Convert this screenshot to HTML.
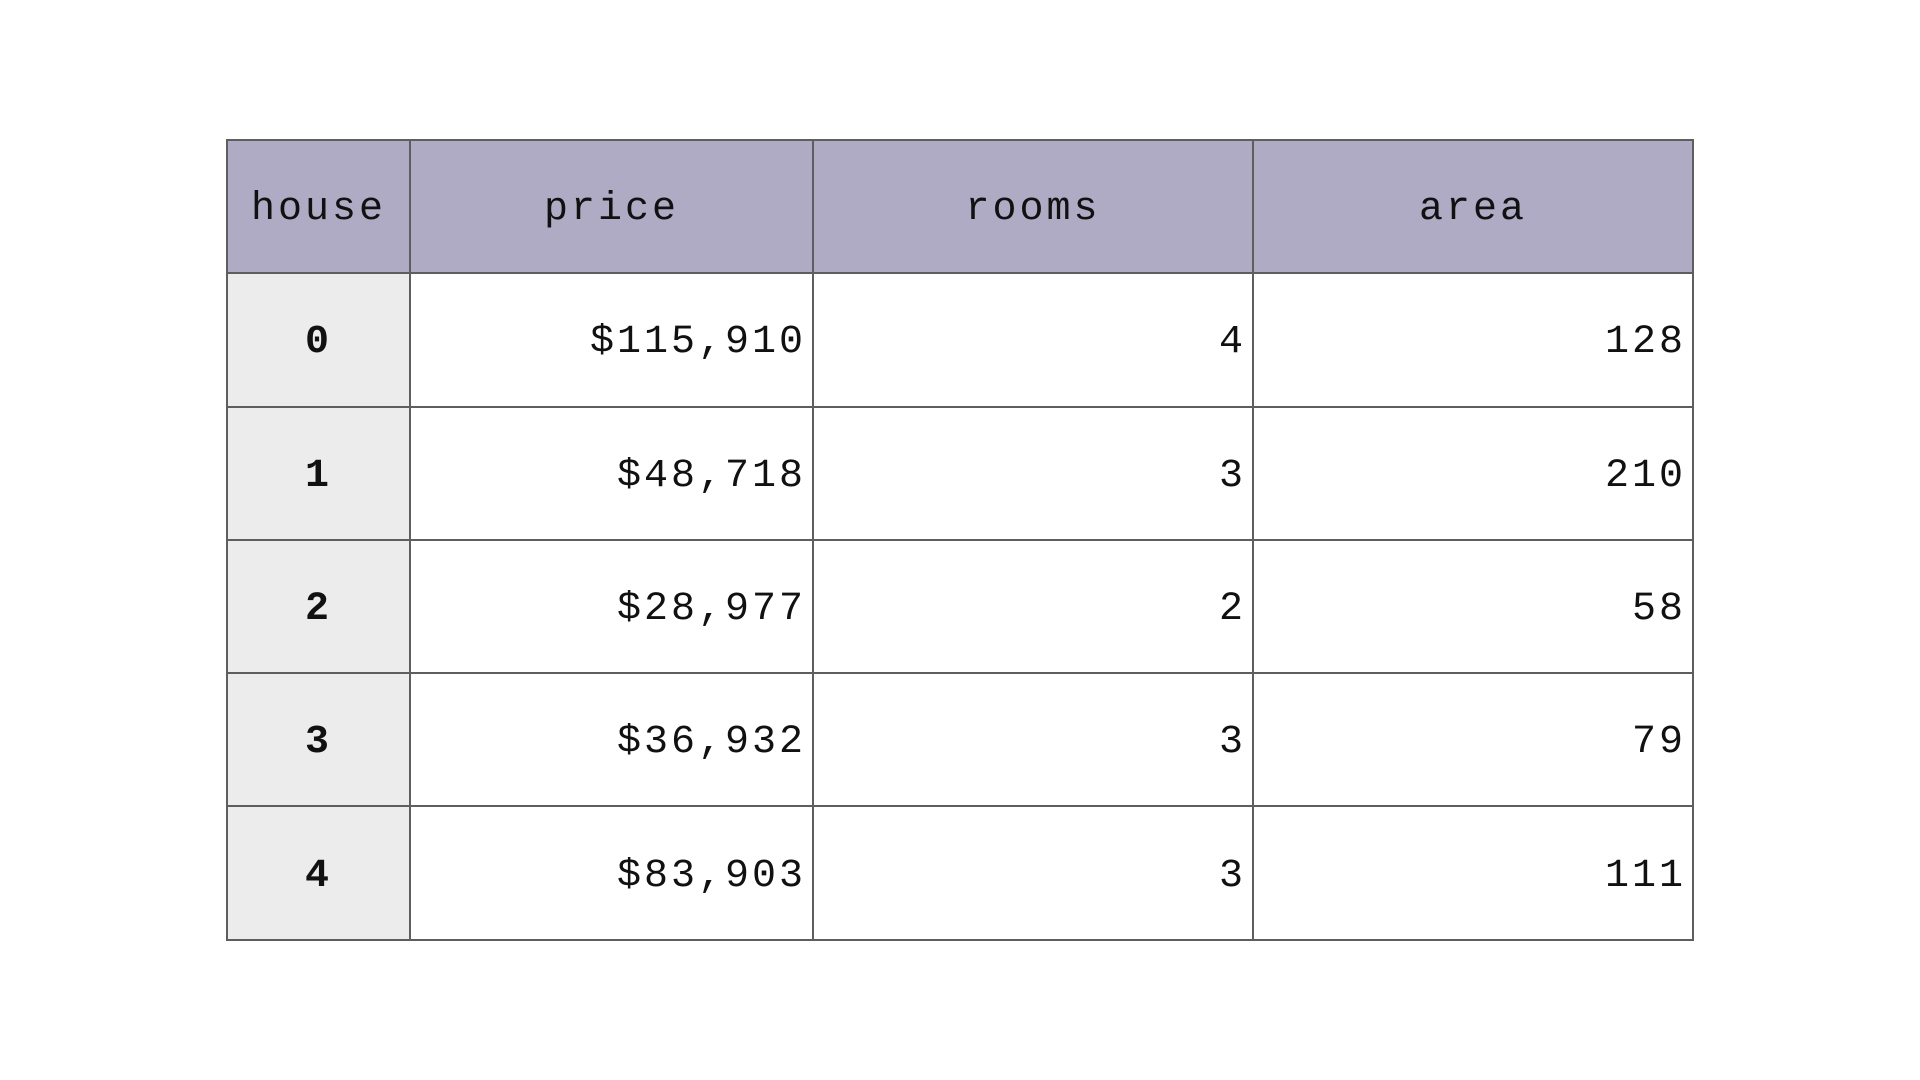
<!DOCTYPE html>
<html><head><meta charset="utf-8"><style>
html,body{margin:0;padding:0;background:#fff;width:1920px;height:1080px;overflow:hidden}
table{position:absolute;left:226px;top:139px;border-collapse:collapse;font-family:"Liberation Mono",monospace;font-size:40px;letter-spacing:3px;color:#111}
td,th{border:2px solid #5e5e5e;height:133.3px;padding:6px 6px 0 6px;box-sizing:border-box}
th{background:#b0abc5;font-weight:normal;text-align:center}
td{text-align:right}
td.idx{background:#ececec;font-weight:bold;text-align:center}
</style></head><body>
<table>
<colgroup><col style="width:183px"><col style="width:403px"><col style="width:440px"><col style="width:440px"></colgroup>
<tr><th>house</th><th>price</th><th>rooms</th><th>area</th></tr>
<tr><td class="idx">0</td><td>$115,910</td><td>4</td><td>128</td></tr>
<tr><td class="idx">1</td><td>$48,718</td><td>3</td><td>210</td></tr>
<tr><td class="idx">2</td><td>$28,977</td><td>2</td><td>58</td></tr>
<tr><td class="idx">3</td><td>$36,932</td><td>3</td><td>79</td></tr>
<tr><td class="idx">4</td><td>$83,903</td><td>3</td><td>111</td></tr>
</table>
</body></html>
